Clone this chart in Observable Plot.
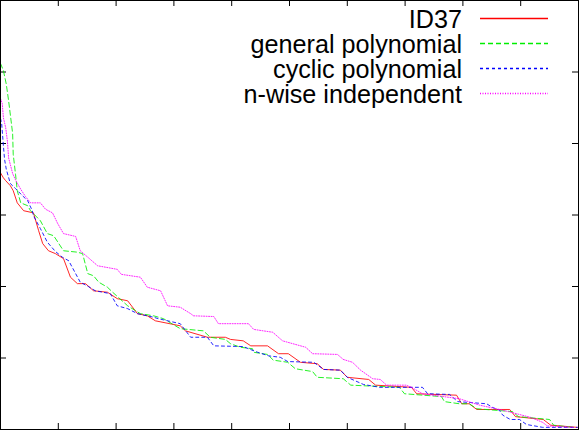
<!DOCTYPE html>
<html>
<head>
<meta charset="utf-8">
<script src="https://cdn.jsdelivr.net/npm/d3@7"></script>
<script src="https://cdn.jsdelivr.net/npm/@observablehq/plot@0.6"></script>
<style>
  html, body { margin: 0; padding: 0; background: #fff; }
  #chart { width: 579px; height: 430px; }
</style>
</head>
<body>
<div id="chart"></div>
<script>
// Series values: [x, y]
const id37 = [[0,35.9],[0.5,35.2],[0.9,34.8],[1.7,34.1],[2.2,33.4],[2.9,31.7],[4.0,30.6],[5.7,30.3],[6.6,27.8],[7.3,26.0],[8.3,25.0],[9.5,24.6],[10.9,23.9],[12.1,21.3],[13.3,20.4],[14.7,20.4],[16.1,19.4],[18.5,19.2],[20.2,18.3],[22.0,18.0],[23.7,16.2],[25.4,15.9],[26.8,15.2],[31.1,14.5],[32.0,13.8],[35.8,12.9],[38.9,12.9],[39.8,12.6],[42.0,12.4],[43.3,11.7],[46.2,11.7],[48.1,10.6],[49.8,10.6],[51.9,9.4],[54.8,9.2],[55.9,8.4],[58.8,8.3],[60.0,7.3],[63.7,7.0],[64.9,6.2],[71.1,5.9],[72.0,5.0],[78.9,4.8],[79.8,3.6],[81.1,3.6],[82.4,2.8],[88.1,2.8],[89.1,1.8],[93.9,1.4],[95.2,0.6],[99.8,0.3]];
const generalPoly = [[0,51.2],[0.5,50.2],[1.0,48.3],[1.4,46.0],[2.1,41.4],[2.2,38.5],[2.6,35.7],[2.9,33.4],[3.5,31.7],[4.7,31.3],[5.2,30.6],[6.9,29.2],[8.1,27.4],[9.2,27.1],[10.9,25.0],[13.3,24.8],[14.2,24.6],[15.1,21.8],[16.1,21.5],[17.0,20.6],[18.5,19.9],[19.4,19.2],[22.0,17.3],[24.2,16.2],[26.5,15.9],[28.2,15.5],[31.1,14.1],[35.1,13.8],[36.3,12.9],[38.9,12.6],[39.8,12.0],[41.5,11.5],[43.6,11.3],[43.8,10.8],[46.2,10.5],[47.2,9.7],[49.7,9.4],[51.0,8.5],[54.0,8.1],[54.8,7.3],[59.3,7.1],[60.6,6.2],[69.0,5.9],[69.9,5.0],[76.3,4.6],[76.8,3.9],[79.4,3.6],[81.1,3.6],[82.4,2.9],[88.6,2.5],[89.6,1.8],[95.0,1.4],[95.7,0.6],[99.0,0.3]];
const cyclicPoly = [[0,43.5],[0.2,42.8],[0.5,39.7],[0.7,37.8],[1.0,36.4],[1.7,34.4],[2.6,33.7],[3.8,32.7],[4.7,32.0],[5.5,30.6],[5.7,29.9],[6.9,28.1],[8.1,26.2],[9.5,24.9],[10.7,24.1],[11.8,23.6],[13.0,21.8],[13.8,20.6],[15.2,20.0],[16.4,19.4],[19.0,19.0],[20.2,17.3],[22.0,16.9],[23.7,16.2],[26.5,15.7],[27.3,15.5],[31.1,14.8],[32.9,12.9],[35.8,12.9],[36.9,11.7],[42.0,11.6],[42.9,11.3],[44.5,10.8],[46.4,10.3],[48.4,10.1],[49.7,9.5],[54.2,9.4],[55.9,8.4],[58.8,8.3],[60.0,7.3],[62.8,6.3],[65.6,5.9],[73.0,5.9],[73.9,5.0],[77.7,4.9],[79.1,3.9],[84.1,3.6],[85.1,3.1],[86.3,2.7],[86.9,2.0],[88.2,1.4],[89.8,1.4],[91.0,0.7],[93.8,0.3],[99.8,0.3]];
const nwiseIndep = [[0,46.3],[0.3,45.6],[0.5,43.6],[0.9,42.2],[1.2,40.3],[1.4,38.0],[2.1,35.8],[2.6,34.9],[3.5,33.6],[4.3,32.6],[5.2,31.7],[6.9,31.7],[7.8,30.8],[9.0,30.3],[9.9,28.8],[10.9,27.4],[13.0,27.0],[13.8,25.0],[15.1,24.1],[16.8,22.9],[20.2,22.4],[20.9,21.7],[24.2,21.3],[25.4,19.9],[27.7,19.4],[28.9,17.3],[31.1,17.1],[32.9,16.2],[33.4,15.9],[36.9,15.8],[37.7,14.8],[42.9,14.8],[43.8,14.0],[47.1,13.6],[48.8,12.4],[52.8,11.5],[54.0,10.6],[58.3,10.5],[59.3,9.8],[60.9,9.4],[62.3,8.3],[64.4,7.1],[65.7,7.0],[66.8,6.2],[70.2,6.2],[71.1,5.9],[73.0,5.0],[79.4,4.3],[82.9,3.4],[86.9,2.7],[91.7,1.7],[93.8,1.0],[94.6,0.5],[99.0,0.3]];

const seriesNames = ["ID37", "general polynomial", "cyclic polynomial", "n-wise independent"];
const seriesData = [id37, generalPoly, cyclicPoly, nwiseIndep];
const seriesColors = ["#ff0000", "#00ee00", "#0000ff", "#ff00ff"];
const seriesDash = [null, "5,3", "3,3", "1,1.5"];

const xTicks = [10, 20, 30, 40, 50, 60, 70, 80, 90];
const yTicks = [10, 20, 30, 40, 50];

const W = 579, H = 430;
const mL = 0, mR = 1, mT = 0, mB = 1;
const tickLen = 6;
const plotW = W - mL - mR, plotH = H - mT - mB;

const marks = [];
// inward ticks on all four sides
marks.push(Plot.ruleX(xTicks, {x: d => d, insetTop: plotH - tickLen, stroke: "#000"}));
marks.push(Plot.ruleX(xTicks, {x: d => d, insetBottom: plotH - tickLen, stroke: "#000"}));
marks.push(Plot.ruleY(yTicks, {y: d => d, insetRight: plotW - tickLen, stroke: "#000"}));
marks.push(Plot.ruleY(yTicks, {y: d => d, insetLeft: plotW - tickLen, stroke: "#000"}));

seriesData.forEach((data, i) => {
  marks.push(Plot.line(data, {
    x: d => d[0], y: d => d[1],
    stroke: seriesColors[i],
    strokeWidth: 1,
    strokeDasharray: seriesDash[i] || undefined,
    strokeOpacity: 0.85
  }));
});
marks.push(Plot.frame({stroke: "#000", strokeWidth: 1}));

const chart = Plot.plot({
  width: W, height: H,
  marginLeft: mL, marginRight: mR, marginTop: mT, marginBottom: mB,
  x: {domain: [0, 100], axis: null},
  y: {domain: [0, 60], axis: null},
  style: {background: "#fff", overflow: "visible"},
  marks
});

// legend inside the frame (top right)
const svg = d3.select(chart);
const lg = svg.append("g").attr("class", "legend");
const textRight = 462, baseline0 = 28, rowStep = 25, sampleX1 = 480, sampleX2 = 548;
seriesNames.forEach((name, i) => {
  const by = baseline0 + i * rowStep;
  lg.append("text")
    .attr("x", textRight).attr("y", by)
    .attr("text-anchor", "end")
    .attr("font-family", "'Liberation Sans', Arial, sans-serif")
    .attr("font-size", 25.2)
    .attr("fill", "#000")
    .text(name);
  lg.append("line")
    .attr("x1", sampleX1).attr("x2", sampleX2)
    .attr("y1", by - 9.5).attr("y2", by - 9.5)
    .style("stroke", seriesColors[i])
    .style("stroke-width", "1.3px")
    .style("stroke-dasharray", seriesDash[i] || "none");
});

document.getElementById("chart").appendChild(chart);
</script>
</body>
</html>
